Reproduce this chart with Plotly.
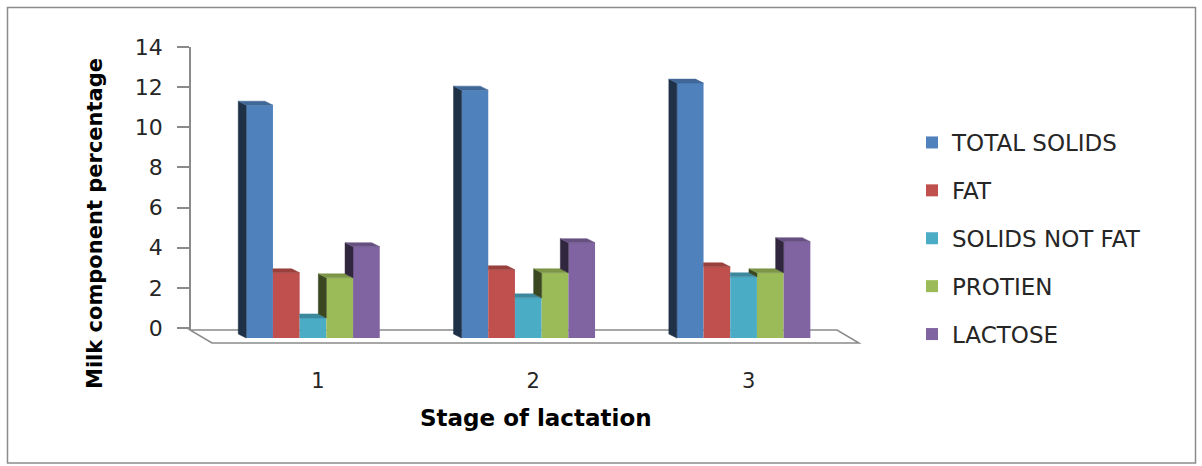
import plotly.graph_objects as go

# ---- data -------------------------------------------------------------
stages = ["1", "2", "3"]
components = ["TOTAL SOLIDS", "FAT", "SOLIDS NOT FAT", "PROTIEN", "LACTOSE"]

total_solids = [11.6, 12.35, 12.7]
fat = [3.25, 3.4, 3.55]
solids_not_fat = [1.0, 2.0, 3.05]
protien = [3.0, 3.25, 3.25]
lactose = [4.55, 4.75, 4.8]

value_ticks = [0, 2, 4, 6, 8, 10, 12, 14]

series = [total_solids, fat, solids_not_fat, protien, lactose]
front_colors = ["#4F81BD", "#C0504D", "#4BACC6", "#9BBB59", "#8064A2"]

# ---- geometry of the pseudo-3D column view (pixels) -------------------
W_PX, H_PX = 1202, 466
STAGE_PX = 215.3          # distance between stage clusters
FIRST_STAGE_PX = 313.0    # centre of the first cluster (front faces)
UNIT_PX = 20.07           # one percentage point
WALL_ZERO_PX = 328.0      # value 0 on the back wall
WALL_X_PX = 190.0         # back-wall value axis
FLOOR_RIGHT_PX = 837.0
FLOOR_SHIFT_PX = 22.0     # horizontal shift of the floor front edge
LABEL_SHIFT_PX = 5.0      # category labels sit under the floor centre


def ux(px):
    return px / STAGE_PX


def uy(px):
    return px / UNIT_PX


def x_at(px):
    return 1 + (px - FIRST_STAGE_PX) / STAGE_PX


x_range = [x_at(0), x_at(W_PX)]
y_range = [-uy(H_PX - WALL_ZERO_PX), uy(WALL_ZERO_PX)]

BAR_W = ux(26.7)
DEPTH_DX = ux(8)
DEPTH_DY = uy(4)
FRONT_DROP = uy(10)
FLOOR_BACK = -uy(2)
FLOOR_FRONT = -uy(15)


def shade(hex_color, f):
    h = hex_color.lstrip("#")
    r, g, b = (int(h[i:i + 2], 16) for i in (0, 2, 4))
    return "rgb(%d,%d,%d)" % (r * f, g * f, b * f)


FONT = "DejaVu Sans"
AXIS_GREY = "#8a8a8a"
TEXT = "#262626"

fig = go.Figure()

# front faces of the columns
for k, vals in enumerate(series):
    centres = [i + 1 + (k - 2) * BAR_W for i in range(len(stages))]
    fig.add_trace(go.Bar(
        x=centres, y=vals, base=[-FRONT_DROP] * len(vals), width=BAR_W,
        name=components[k], marker=dict(color=front_colors[k], line=dict(width=0)),
        legendgroup=components[k], hovertemplate=components[k] + ": %{y}<extra></extra>",
    ))

# side and top faces, clipped where the neighbouring column hides them
for k, vals in enumerate(series):
    side_x, side_y, top_x, top_y = [], [], [], []
    for i, v in enumerate(vals):
        xl = i + 1 + (k - 2.5) * BAR_W
        xr = xl + BAR_W
        t = v - FRONT_DROP
        tl = (series[k - 1][i] - FRONT_DROP) if k > 0 else -FRONT_DROP
        if tl < t:
            side_x += [xl, xl, xl - DEPTH_DX, xl - DEPTH_DX, xl, None]
            side_y += [tl, t, t + DEPTH_DY, tl + DEPTH_DY, tl, None]
        left_back = xl if (k > 0 and tl > t) else xl - DEPTH_DX
        top_x += [xl, xr, xr - DEPTH_DX, left_back, xl, None]
        top_y += [t, t, t + DEPTH_DY, t + DEPTH_DY, t, None]
    if side_x:
        c = shade(front_colors[k], 0.38)
        fig.add_trace(go.Scatter(x=side_x, y=side_y, mode="lines", fill="toself",
                                 fillcolor=c, line=dict(color=c, width=0.5),
                                 showlegend=False, hoverinfo="skip"))
    c = shade(front_colors[k], 0.8)
    fig.add_trace(go.Scatter(x=top_x, y=top_y, mode="lines", fill="toself",
                             fillcolor=c, line=dict(color=c, width=0.5),
                             showlegend=False, hoverinfo="skip"))

# carrier for the back-wall value axis
fig.add_trace(go.Scatter(x=[x_at(WALL_X_PX)], y=[0], yaxis="y2", mode="markers",
                         marker=dict(opacity=0), showlegend=False, hoverinfo="skip"))

# floor of the plot area
fl, fr = x_at(WALL_X_PX), x_at(FLOOR_RIGHT_PX)
sh = ux(FLOOR_SHIFT_PX)
floor_path = "M{},{} L{},{} L{},{} L{},{} Z".format(
    fl, FLOOR_BACK, fr, FLOOR_BACK, fr + sh, FLOOR_FRONT, fl + sh, FLOOR_FRONT)

shapes = [
    dict(type="path", path=floor_path, xref="x", yref="y", layer="below",
         fillcolor="white", line=dict(color=AXIS_GREY, width=1.5)),
    dict(type="rect", xref="paper", yref="paper", x0=7.5 / W_PX, x1=1195.5 / W_PX,
         y0=1 - 463 / H_PX, y1=1 - 7.5 / H_PX, line=dict(color="#8c8c8c", width=1.5)),
]

wall_top_px, wall_bottom_px = 47.0, 330.0

fig.update_layout(
    width=W_PX, height=H_PX,
    margin=dict(l=0, r=0, t=0, b=0, autoexpand=False),
    paper_bgcolor="white", plot_bgcolor="rgba(0,0,0,0)",
    barmode="overlay",
    showlegend=True,
    xaxis=dict(range=x_range, domain=[0, 1], anchor="free", position=1 - 366 / H_PX,
               tickvals=[i + 1 + ux(LABEL_SHIFT_PX) for i in range(len(stages))],
               ticktext=stages, ticks="", showline=False,
               showgrid=False, zeroline=False, fixedrange=True,
               tickfont=dict(family=FONT, size=21, color=TEXT)),
    yaxis=dict(range=y_range, domain=[0, 1], visible=False, fixedrange=True),
    yaxis2=dict(range=[FLOOR_BACK, 14], anchor="free",
                position=WALL_X_PX / W_PX, side="left",
                domain=[1 - wall_bottom_px / H_PX, 1 - wall_top_px / H_PX],
                tickvals=value_ticks, ticks="outside", ticklen=12, tickwidth=1.5,
                tickcolor=AXIS_GREY, showline=True, linecolor=AXIS_GREY, linewidth=1.5,
                showgrid=False, zeroline=False, fixedrange=True,
                ticklabelstandoff=10,
                tickfont=dict(family=FONT, size=22, color=TEXT)),
    legend=dict(x=912 / W_PX, y=1 - 121 / H_PX, xanchor="left", yanchor="top",
                font=dict(family=FONT, size=23, color=TEXT), tracegroupgap=15,
                bgcolor="rgba(0,0,0,0)", traceorder="grouped"),
    shapes=shapes,
    annotations=[
        dict(text="<b>Milk component percentage</b>", xref="paper", yref="paper",
             x=95 / W_PX, y=1 - 224 / H_PX, xanchor="center", yanchor="middle",
             textangle=-90, showarrow=False,
             font=dict(family=FONT, size=21, color="black")),
        dict(text="<b>Stage of lactation</b>", xref="paper", yref="paper",
             x=536 / W_PX, y=1 - 418 / H_PX, xanchor="center", yanchor="middle",
             showarrow=False, font=dict(family=FONT, size=23, color="black")),
    ],
)

fig.write_html("out.html")
